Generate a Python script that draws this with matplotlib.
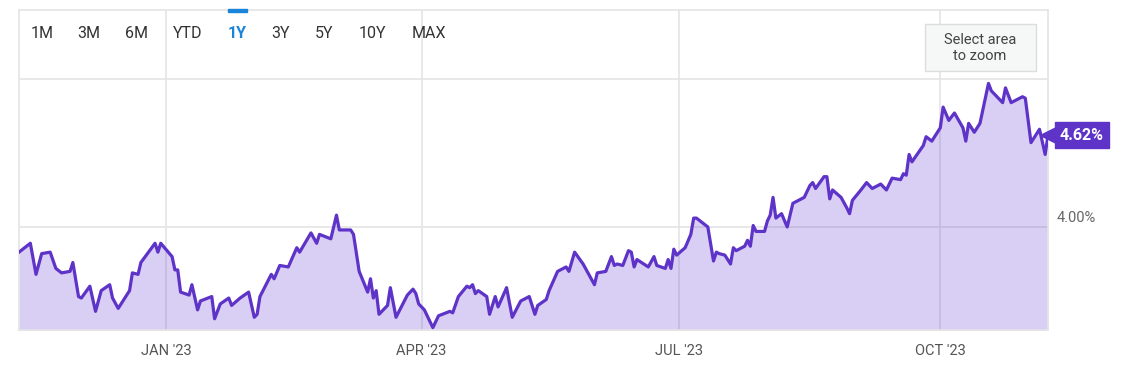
import numpy as np
import pandas as pd
import matplotlib
matplotlib.use("Agg")
import matplotlib.pyplot as plt

plt.rcParams['font.family'] = ['Roboto', 'DejaVu Sans']

# yield series
dates = [
    "2022-11-10", "2022-11-14", "2022-11-16", "2022-11-18", "2022-11-21", "2022-11-23",
    "2022-11-25", "2022-11-28", "2022-11-29", "2022-12-01", "2022-12-02", "2022-12-05",
    "2022-12-07", "2022-12-09", "2022-12-12", "2022-12-13", "2022-12-15", "2022-12-19",
    "2022-12-20", "2022-12-22", "2022-12-23", "2022-12-28", "2022-12-29", "2022-12-30",
    "2023-01-03", "2023-01-04", "2023-01-05", "2023-01-06", "2023-01-09", "2023-01-10",
    "2023-01-12", "2023-01-13", "2023-01-17", "2023-01-18", "2023-01-20", "2023-01-23",
    "2023-01-24", "2023-01-27", "2023-01-30", "2023-02-01", "2023-02-02", "2023-02-03",
    "2023-02-07", "2023-02-08", "2023-02-10", "2023-02-13", "2023-02-16", "2023-02-17",
    "2023-02-21", "2023-02-23", "2023-02-24", "2023-02-28", "2023-03-02", "2023-03-03",
    "2023-03-07", "2023-03-08", "2023-03-10", "2023-03-13", "2023-03-14", "2023-03-15",
    "2023-03-16", "2023-03-17", "2023-03-20", "2023-03-21", "2023-03-23", "2023-03-27",
    "2023-03-29", "2023-03-30", "2023-03-31", "2023-04-02", "2023-04-05", "2023-04-07",
    "2023-04-11", "2023-04-12", "2023-04-14", "2023-04-17", "2023-04-18", "2023-04-19",
    "2023-04-20", "2023-04-21", "2023-04-24", "2023-04-25", "2023-04-27", "2023-04-28",
    "2023-05-01", "2023-05-03", "2023-05-06", "2023-05-09", "2023-05-11", "2023-05-12",
    "2023-05-15", "2023-05-16", "2023-05-19", "2023-05-21", "2023-05-22", "2023-05-23",
    "2023-05-25", "2023-05-28", "2023-06-01", "2023-06-02", "2023-06-05", "2023-06-07",
    "2023-06-08", "2023-06-09", "2023-06-11", "2023-06-13", "2023-06-14", "2023-06-15",
    "2023-06-16", "2023-06-20", "2023-06-22", "2023-06-23", "2023-06-26", "2023-06-27",
    "2023-06-28", "2023-06-29", "2023-06-30", "2023-07-03", "2023-07-05", "2023-07-06",
    "2023-07-07", "2023-07-11", "2023-07-13", "2023-07-14", "2023-07-15", "2023-07-17",
    "2023-07-19", "2023-07-20", "2023-07-21", "2023-07-24", "2023-07-25", "2023-07-26",
    "2023-07-27", "2023-07-28", "2023-07-31", "2023-08-01", "2023-08-02", "2023-08-03",
    "2023-08-04", "2023-08-06", "2023-08-08", "2023-08-10", "2023-08-13", "2023-08-14",
    "2023-08-16", "2023-08-17", "2023-08-18", "2023-08-21", "2023-08-22", "2023-08-23",
    "2023-08-24", "2023-08-27", "2023-08-29", "2023-08-30", "2023-08-31", "2023-09-03",
    "2023-09-05", "2023-09-07", "2023-09-10", "2023-09-12", "2023-09-14", "2023-09-17",
    "2023-09-18", "2023-09-19", "2023-09-20", "2023-09-21", "2023-09-25", "2023-09-26",
    "2023-09-28", "2023-10-01", "2023-10-02", "2023-10-04", "2023-10-06", "2023-10-09",
    "2023-10-10", "2023-10-11", "2023-10-13", "2023-10-15", "2023-10-18", "2023-10-19",
    "2023-10-23", "2023-10-24", "2023-10-26", "2023-10-30", "2023-10-31", "2023-11-02",
    "2023-11-05", "2023-11-07", "2023-11-08",
]
values = [
    3.83, 3.89, 3.68, 3.82, 3.83, 3.72,
    3.69, 3.70, 3.76, 3.53, 3.52, 3.60,
    3.43, 3.57, 3.61, 3.52, 3.45, 3.57,
    3.69, 3.68, 3.76, 3.89, 3.83, 3.89,
    3.80, 3.71, 3.71, 3.56, 3.54, 3.61,
    3.44, 3.50, 3.53, 3.38, 3.48, 3.52,
    3.47, 3.52, 3.56, 3.39, 3.41, 3.53,
    3.68, 3.65, 3.74, 3.73, 3.86, 3.83,
    3.96, 3.89, 3.95, 3.92, 4.08, 3.98,
    3.98, 3.95, 3.70, 3.56, 3.65, 3.52,
    3.57, 3.41, 3.47, 3.59, 3.39, 3.54,
    3.58, 3.55, 3.48, 3.44, 3.32, 3.40,
    3.43, 3.42, 3.53, 3.60, 3.59, 3.61,
    3.55, 3.57, 3.53, 3.41, 3.53, 3.46,
    3.59, 3.39, 3.50, 3.53, 3.41, 3.47,
    3.51, 3.57, 3.70, 3.72, 3.73, 3.70,
    3.83, 3.75, 3.61, 3.69, 3.70, 3.80,
    3.74, 3.75, 3.74, 3.84, 3.83, 3.73,
    3.78, 3.73, 3.80, 3.74, 3.72, 3.78,
    3.72, 3.85, 3.81, 3.86, 3.95, 4.06,
    4.06, 4.00, 3.77, 3.83, 3.82, 3.81,
    3.75, 3.86, 3.84, 3.87, 3.91, 3.87,
    4.01, 3.97, 3.97, 4.04, 4.08, 4.20,
    4.06, 4.09, 4.00, 4.16, 4.19, 4.20,
    4.28, 4.30, 4.26, 4.34, 4.34, 4.19,
    4.25, 4.20, 4.13, 4.09, 4.18, 4.25,
    4.30, 4.26, 4.29, 4.25, 4.33, 4.32,
    4.36, 4.35, 4.49, 4.44, 4.55, 4.61,
    4.58, 4.67, 4.81, 4.72, 4.77, 4.67,
    4.58, 4.70, 4.64, 4.70, 4.97, 4.92,
    4.84, 4.94, 4.84, 4.88, 4.87, 4.57,
    4.66, 4.49, 4.62,
]

tick_dates = ["2023-01-01", "2023-04-01", "2023-07-01", "2023-10-01"]
tick_labels = ["JAN '23", "APR '23", "JUL '23", "OCT '23"]
grid_levels = [4.0, 5.0]
range_buttons = ["1M", "3M", "6M", "YTD", "1Y", "3Y", "5Y", "10Y", "MAX"]
active_button = "1Y"

x = pd.to_datetime(dates)
y = np.array(values)

W, H = 1147, 367
fig = plt.figure(figsize=(W / 100, H / 100), dpi=100)
ax = fig.add_axes([19 / W, 1 - 330 / H, (1048 - 19) / W, 320 / H])

ymin, ymax = 3.304, 5.466
line_c = "#5e33c8"
grid_c = "#e4e4e4"

ax.set_xlim(pd.Timestamp("2022-11-10"), pd.Timestamp("2023-11-08"))
ax.set_ylim(ymin, ymax)

for g in grid_levels:
    ax.axhline(g, color=grid_c, lw=1.2, zorder=1)
for t in tick_dates:
    ax.axvline(pd.Timestamp(t), color=grid_c, lw=1.2, zorder=1)

ax.fill_between(x, y, ymin, color="#6a3fd0", alpha=0.25, lw=0, zorder=2)
ax.plot(x, y, color=line_c, lw=2.3, zorder=3)

for s in ax.spines.values():
    s.set_color(grid_c)
    s.set_linewidth(1.2)

ax.set_xticks(pd.to_datetime(tick_dates))
ax.set_xticklabels(tick_labels)
ax.tick_params(axis="x", length=0, pad=10, labelsize=10.5, labelcolor="#555555")
ax.set_yticks([])

# right side y label
ax.annotate("4.00%", xy=(1.0, 4.0), xycoords=ax.get_yaxis_transform(),
            xytext=(6, 1.5), textcoords="offset points", ha="left", va="bottom",
            fontsize=10.5, color="#666666", annotation_clip=False)

# last value tag
last = y[-1]
ytf = ax.get_yaxis_transform()
ax.plot([1.0], [last], marker="<", markersize=11, color=line_c,
        transform=ytf, clip_on=False, zorder=5)
ax.annotate(f"{last:.2f}%", xy=(1.0, last), xycoords=ytf,
            xytext=(8.5, 0), textcoords="offset points", ha="left", va="center",
            fontsize=11.5, fontweight="bold", color="white", annotation_clip=False,
            bbox=dict(boxstyle="square,pad=0.33", fc=line_c, ec=line_c))

# range selector
btn_x = [42, 89, 136, 188, 237, 281, 324, 372, 429]
for lbl, bx in zip(range_buttons, btn_x):
    active = lbl == active_button
    fig.text(bx / W, 1 - 33 / H, lbl, ha="center", va="center", fontsize=11.5,
             color="#1a84d8" if active else "#333333",
             fontweight="bold" if active else "normal")
    if active:
        fig.patches.append(plt.Rectangle((228 / W, 1 - 12 / H), 19 / W, 3 / H,
                                         transform=fig.transFigure, color="#1a84d8"))

# zoom hint box
fig.patches.append(plt.Rectangle((925 / W, 1 - 71 / H), 111 / W, 47 / H,
                                 transform=fig.transFigure, fc="#f6f7f7", ec="#dddddd", lw=1))
fig.text(980 / W, 1 - 48 / H, "Select area\nto zoom", ha="center", va="center",
         fontsize=10.5, color="#444444", linespacing=1.1)

fig.savefig("out.png", dpi=100)
